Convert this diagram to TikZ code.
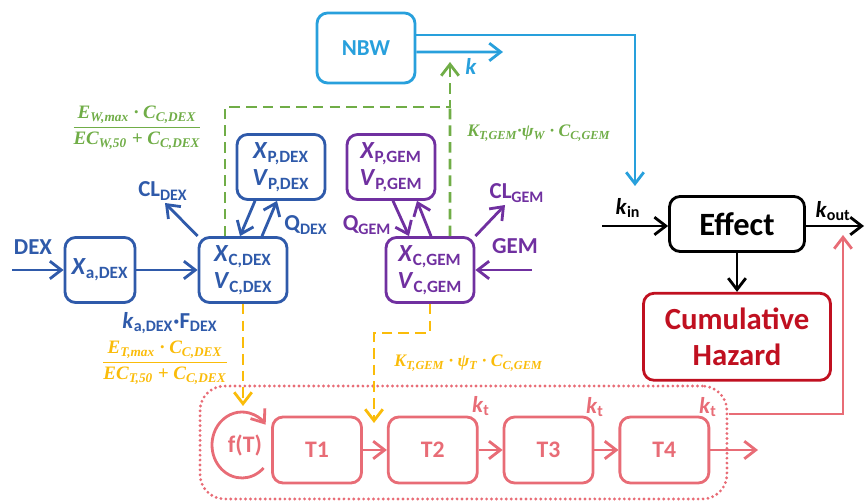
\documentclass[tikz,border=0pt]{standalone}
\usepackage{fontspec}
\setmainfont{Carlito}
\newfontfamily\frmfont{Liberation Serif}
\usepackage{amsmath}
\definecolor{DexBlue}  {RGB}{47,90,170}
\definecolor{GemPurple}{RGB}{112,48,160}
\definecolor{NbwBlue}  {RGB}{40,160,220}
\definecolor{WtGreen}  {RGB}{112,173,71}
\definecolor{TmAmber}  {RGB}{250,188,10}
\definecolor{TrPink}   {RGB}{232,108,118}
\definecolor{HazRed}   {RGB}{192,16,32}
\usetikzlibrary{arrows.meta,positioning}
\newcommand{\itsub}[2]{\textit{#1}\textsubscript{#2}}
\newcommand{\frmtxt}[1]{\text{\frmfont\bfseries\itshape #1}}

\begin{document}
\begin{tikzpicture}[x=0.02cm,y=-0.02cm,node distance=0.48cm,
  box/.style={draw,rounded corners=6pt,line width=1.6pt,
              minimum width=1.76cm,minimum height=1.3cm,
              align=center,inner sep=1pt,
              font=\fontsize{14}{15.5}\selectfont\bfseries},
  dex/.style={box,draw=DexBlue,text=DexBlue},
  gem/.style={box,draw=GemPurple,text=GemPurple},
  tbox/.style={box,draw=TrPink,text=TrPink,minimum width=1.78cm,
               minimum height=1.32cm,
               font=\fontsize{13.5}{15}\selectfont\bfseries},
  flow/.style={-{Straight Barb[length=6.5pt,width=10pt]},line width=1.6pt},
  lbl/.style={font=\fontsize{13}{14}\selectfont\bfseries,inner sep=0pt},
  frm/.style={font=\fontsize{10}{12}\selectfont,inner sep=0pt},
  frac/.style={font=\fontsize{10.8}{13}\selectfont,inner sep=0pt},
  gline/.style={WtGreen,line width=1.6pt,dash pattern=on 6pt off 3.5pt},
  gdash/.style={flow,gline},
  ydash/.style={flow,TmAmber,dash pattern=on 6pt off 3.5pt}]
  \useasboundingbox (0,0) rectangle (865,502);

  % compartments
  \node[box,draw=NbwBlue,text=NbwBlue,minimum width=1.96cm,minimum height=1.4cm,
        font=\fontsize{13}{14}\selectfont\bfseries](NBW) at (366,48){NBW};
  \node[dex,minimum width=1.4cm](XaD) at (100,270){\itsub{X}{a,DEX}};
  \node[dex](XcD) at (243,270){\itsub{X}{C,DEX}\\\itsub{V}{C,DEX}};
  \node[dex](XpD) at (281,167){\itsub{X}{P,DEX}\\\itsub{V}{P,DEX}};
  \node[gem](XpG) at (391,167){\itsub{X}{P,GEM}\\\itsub{V}{P,GEM}};
  \node[gem](XcG) at (430,270){\itsub{X}{C,GEM}\\\itsub{V}{C,GEM}};
  \node[box,minimum width=2.7cm,minimum height=1.1cm,
        font=\fontsize{18.5}{20}\selectfont\bfseries](Eff) at (737,224){Effect};
  \node[box,below=0.78cm of Eff,draw=HazRed,text=HazRed,minimum width=3.74cm,
        minimum height=1.74cm,font=\fontsize{17.5}{20}\selectfont\bfseries]
       (Haz){Cumulative\\Hazard};

  % transit chain
  \node[draw=TrPink,line width=1.8pt,dash pattern=on 0pt off 2.8pt,line cap=round,
        rounded corners=14pt,minimum width=10.54cm,minimum height=2.26cm,
        inner sep=0pt](transit) at (463.5,442.5){};
  \node[tbox](T1) at (317,450){T1};
  \node[tbox,right=of T1](T2){T2};
  \node[tbox,right=of T2](T3){T3};
  \node[tbox,right=of T3](T4){T4};
  \node[text=TrPink,font=\fontsize{13.5}{15}\selectfont\bfseries](fT) at (245,445){f(T)};
  \draw[flow,TrPink]([xshift=-0.06cm]fT.center) ++(-44:0.6cm and 0.66cm)
       arc[start angle=-44,end angle=-322,x radius=0.6cm,y radius=0.66cm];
  \coordinate(tout) at (758,450);
  \draw[flow,TrPink](T1)--(T2);
  \draw[flow,TrPink](T2)--(T3);
  \draw[flow,TrPink](T3)--(T4);
  \draw[flow,TrPink](T4)--(tout);
  \node[lbl,text=TrPink](kt2) at (481,406){\itsub{k}{t}};
  \node[lbl,text=TrPink](kt3) at (595,407){\itsub{k}{t}};
  \node[lbl,text=TrPink](kt4) at (708,407){\itsub{k}{t}};

  % DEX
  \coordinate(dexin) at (12,270);
  \node[lbl,text=DexBlue](dexlbl) at (33,247){DEX};
  \draw[flow,DexBlue](dexin)--(XaD);
  \draw[flow,DexBlue](XaD)--(XcD);
  \node[lbl,text=DexBlue](kadex) at (170,323)
       {\itsub{k}{a,DEX}\textperiodcentered F\textsubscript{DEX}};
  \coordinate(cldexend) at (165,203);
  \node[lbl,text=DexBlue](cldex) at (163,191){CL\textsubscript{DEX}};
  \draw[flow,DexBlue](XcD.north west)--(cldexend);
  \draw[flow,DexBlue]([xshift=-0.52cm]XpD.south)--([xshift=-0.06cm]XcD.north);
  \draw[flow,DexBlue]([xshift=0.38cm]XcD.north)--([xshift=-0.08cm]XpD.south);
  \node[lbl,text=DexBlue](qdex) at (306,225){Q\textsubscript{DEX}};

  % GEM
  \draw[flow,GemPurple]([xshift=0.04cm]XpG.south)--([xshift=-0.42cm]XcG.north);
  \draw[flow,GemPurple]([xshift=0.02cm]XcG.north)--([xshift=0.52cm]XpG.south);
  \node[lbl,text=GemPurple](qgem) at (367,225){Q\textsubscript{GEM}};
  \coordinate(clgemend) at (505,205);
  \node[lbl,text=GemPurple](clgem) at (517,193){CL\textsubscript{GEM}};
  \draw[flow,GemPurple](XcG.north east)--(clgemend);
  \coordinate(gemin) at (532,270);
  \node[lbl,text=GemPurple](gemlbl) at (515,246){GEM};
  \draw[flow,GemPurple](gemin)--(XcG);

  % NBW
  \coordinate(kinin) at (635,186);
  \coordinate(kend) at (503,52);
  \draw[flow,NbwBlue]([yshift=0.26cm]NBW.east)-|(kinin);
  \draw[flow,NbwBlue]([yshift=-0.08cm]NBW.east)--(kend);
  \node[lbl,text=NbwBlue](klbl) at (471,66){\textit{k}};

  % weight effect
  \coordinate(gj) at (450,107);
  \coordinate(gtip) at (450,62);
  \draw[gdash]([xshift=-0.36cm]XcD.north)|-(gj)--(gtip);
  \draw[gline]([xshift=0.4cm]XcG.north)--(gj);
  \node[frac,text=WtGreen](fw1) at (137,128)
       {$\dfrac{\frmtxt{E\textsubscript{W,max} · C\textsubscript{C,DEX}}}
               {\frmtxt{EC\textsubscript{W,50} + C\textsubscript{C,DEX}}}$};
  \node[frm,text=WtGreen,anchor=west](fw2) at (467,133)
       {\frmtxt{K\textsubscript{T,GEM}·ψ\textsubscript{W} · C\textsubscript{C,GEM}}};

  % tumour effect
  \coordinate(ytip1) at (243,406);
  \coordinate(ybend) at (374,333);
  \coordinate(ytip2) at (374,423);
  \draw[ydash](XcD.south)--(ytip1);
  \draw[ydash](XcG.south)|-(ybend)--(ytip2);
  \node[frac,text=TmAmber](ft1) at (165,363)
       {$\dfrac{\frmtxt{E\textsubscript{T,max} · C\textsubscript{C,DEX}}}
               {\frmtxt{EC\textsubscript{T,50} + C\textsubscript{C,DEX}}}$};
  \node[frm,text=TmAmber,anchor=west](ft2) at (394,363)
       {\frmtxt{K\textsubscript{T,GEM} · ψ\textsubscript{T} · C\textsubscript{C,GEM}}};

  % effect
  \coordinate(kinstart) at (602,226);
  \coordinate(koutend) at (864,226);
  \coordinate(koutin) at (843,235);
  \draw[flow](kinstart)--(kinstart-|Eff.west);
  \node[lbl](kin) at (628,208){\itsub{k}{in}};
  \draw[flow](Eff.east|-koutend)--(koutend);
  \node[lbl](kout) at (833,211){\itsub{k}{out}};
  \draw[flow](Eff)--(Haz);
  \draw[flow,TrPink]([yshift=0.57cm]transit.east)-|(koutin);
\end{tikzpicture}
\end{document}
